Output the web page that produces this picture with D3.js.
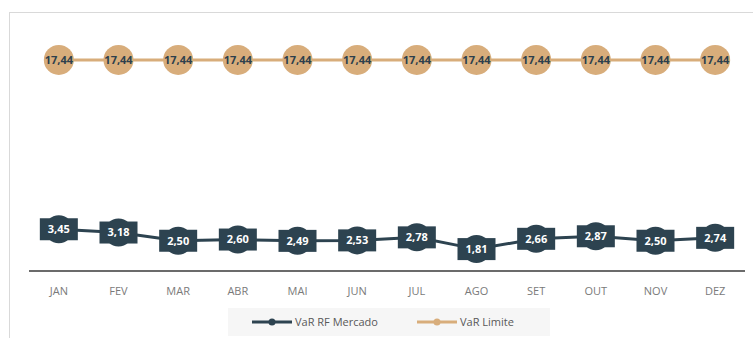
<!DOCTYPE html>
<html lang="en">
<head>
  <meta charset="UTF-8" />
  <title>VaR RF Mercado x VaR Limite</title>
  <script src="https://d3js.org/d3.v7.min.js"></script>
  <style>
    body { margin: 0; background: #fff; font-family: "Open Sans", sans-serif; }
    svg { display: block; }
  </style>
</head>
<body>
  <div id="chart"></div>
  <script>
    const months = ["JAN", "FEV", "MAR", "ABR", "MAI", "JUN", "JUL", "AGO", "SET", "OUT", "NOV", "DEZ"];
    const varMercado = [3.45, 3.18, 2.50, 2.60, 2.49, 2.53, 2.78, 1.81, 2.66, 2.87, 2.50, 2.74];
    const varLimite = [17.44, 17.44, 17.44, 17.44, 17.44, 17.44, 17.44, 17.44, 17.44, 17.44, 17.44, 17.44];
    const seriesNames = ["VaR RF Mercado", "VaR Limite"];

    const width = 753, height = 338;
    const dark = "#2d4350", tan = "#d8ad7b";
    const fmt = v => d3.format(".2f")(v).replace(".", ",");

    const svg = d3.select("#chart").append("svg")
      .attr("width", width).attr("height", height);

    // chart frame (cropped on right/bottom)
    svg.append("rect")
      .attr("x", 9.5).attr("y", 12.5)
      .attr("width", 760).attr("height", 340)
      .attr("fill", "none").attr("stroke", "#d9d9d9");

    const x = d3.scaleBand().domain(months).range([29, 745]);
    const y = d3.scaleLinear().domain([0, 20]).range([271, 29]);
    const cx = m => x(m) + x.bandwidth() / 2;

    // axis
    svg.append("line")
      .attr("x1", 29).attr("x2", 745)
      .attr("y1", y(0)).attr("y2", y(0))
      .attr("stroke", "#6b6b6b").attr("stroke-width", 2);

    svg.append("g").selectAll("text").data(months).join("text")
      .attr("x", cx).attr("y", 295)
      .attr("text-anchor", "middle")
      .attr("font-size", 11).attr("fill", "#7a7a7a")
      .text(d => d);

    const line = d3.line().x((d, i) => cx(months[i])).y(d => y(d));

    // limit series
    svg.append("path").datum(varLimite)
      .attr("d", line).attr("fill", "none")
      .attr("stroke", tan).attr("stroke-width", 3);

    const lim = svg.append("g").selectAll("g").data(varLimite).join("g")
      .attr("transform", (d, i) => `translate(${cx(months[i])},${y(d)})`);
    lim.append("circle").attr("r", 15).attr("fill", tan);
    lim.append("text")
      .attr("text-anchor", "middle").attr("dy", "0.35em")
      .attr("font-size", 11).attr("font-weight", "bold")
      .attr("fill", "#2d3f4c")
      .text(fmt);

    // market series
    svg.append("path").datum(varMercado)
      .attr("d", line).attr("fill", "none")
      .attr("stroke", dark).attr("stroke-width", 3);

    const mk = svg.append("g").selectAll("g").data(varMercado).join("g")
      .attr("transform", (d, i) => `translate(${cx(months[i])},${y(d)})`);
    mk.append("circle").attr("r", 14).attr("fill", dark);
    mk.append("rect")
      .attr("x", -19).attr("y", -11).attr("width", 38).attr("height", 22)
      .attr("fill", dark);
    mk.append("text")
      .attr("text-anchor", "middle").attr("dy", "0.35em")
      .attr("font-size", 11).attr("font-weight", "bold")
      .attr("fill", "#fff")
      .text(fmt);

    // legend
    const legend = svg.append("g");
    legend.append("rect")
      .attr("x", 228).attr("y", 308).attr("width", 322).attr("height", 28)
      .attr("fill", "#f6f6f6");
    const items = [
      { name: seriesNames[0], color: dark, x: 252 },
      { name: seriesNames[1], color: tan, x: 417 }
    ];
    const li = legend.selectAll("g.item").data(items).join("g")
      .attr("class", "item")
      .attr("transform", d => `translate(${d.x},322)`);
    li.append("line").attr("x1", 0).attr("x2", 40)
      .attr("stroke", d => d.color).attr("stroke-width", 3);
    li.append("circle").attr("cx", 20).attr("r", 3.5).attr("fill", d => d.color);
    li.append("text").attr("x", 43).attr("dy", "0.35em")
      .attr("font-size", 11).attr("fill", "#595959")
      .text(d => d.name);
  </script>
</body>
</html>
